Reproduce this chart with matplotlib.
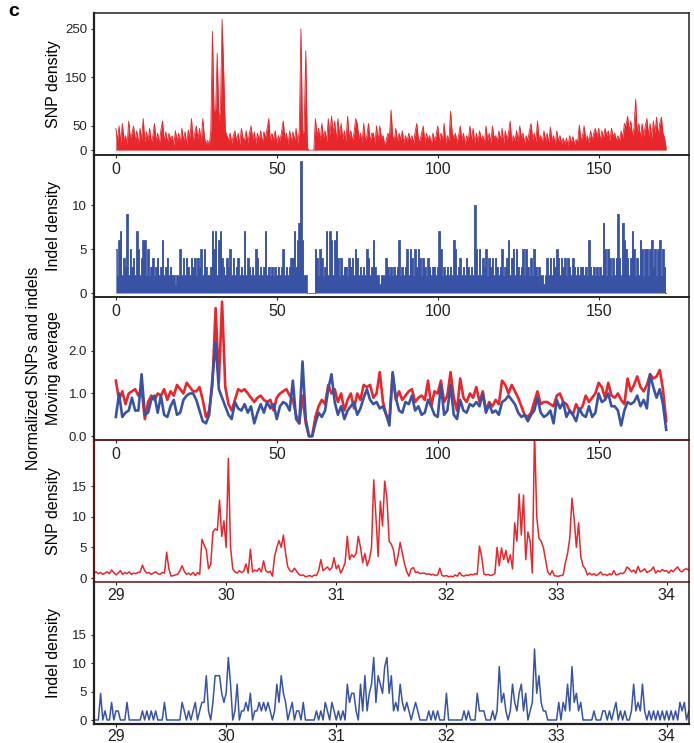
import numpy as np
import matplotlib
matplotlib.use('Agg')
import matplotlib.pyplot as plt

plt.rcParams['font.family'] = ['Liberation Sans', 'DejaVu Sans']

RED = '#e8262b'
BLUE = '#3953a4'
MAROON = '#5c1616'

# whole chromosome, 0.5 Mb bins starting at 0 Mb
genomeStart = 0.0
genomeStep = 0.5
snpDensity = [
    45, 20, 50, 15, 55, 22, 30, 12, 60, 25,
    35, 50, 18, 40, 14, 45, 22, 65, 16, 38,
    20, 45, 15, 30, 55, 18, 35, 12, 42, 60,
    18, 38, 16, 35, 22, 30, 10, 40, 18, 35,
    15, 45, 20, 38, 12, 42, 25, 65, 18, 35,
    50, 22, 45, 15, 65, 28, 12, 20, 10, 40,
    245, 80, 85, 200, 60, 85, 270, 160, 40, 30,
    20, 35, 15, 30, 40, 18, 35, 12, 45, 25,
    20, 40, 15, 35, 50, 22, 38, 14, 35, 20,
    40, 15, 38, 25, 45, 65, 18, 35, 22, 40,
    15, 30, 20, 38, 60, 25, 35, 12, 40, 18,
    38, 20, 45, 15, 40, 250, 35, 40, 205, 5,
    0, 0, 0, 0, 65, 30, 45, 20, 55, 25,
    40, 18, 65, 30, 70, 35, 60, 20, 65, 30,
    55, 22, 40, 18, 70, 25, 40, 20, 35, 65,
    55, 25, 35, 15, 55, 20, 30, 55, 18, 35,
    35, 15, 50, 20, 50, 25, 30, 12, 20, 35,
    28, 83, 30, 20, 45, 18, 35, 22, 40, 15,
    30, 18, 35, 20, 30, 14, 38, 55, 22, 20,
    35, 50, 15, 35, 22, 30, 12, 35, 20, 30,
    50, 18, 35, 22, 55, 15, 30, 20, 80, 35,
    25, 35, 15, 30, 50, 20, 35, 12, 30, 20,
    50, 20, 45, 15, 35, 18, 40, 22, 30, 14,
    50, 20, 35, 15, 50, 25, 30, 18, 40, 22,
    45, 15, 40, 22, 35, 60, 18, 30, 20, 40,
    18, 50, 25, 35, 15, 30, 20, 40, 55, 22,
    35, 18, 60, 22, 30, 15, 40, 20, 35, 15,
    48, 20, 30, 12, 40, 18, 30, 14, 25, 12,
    25, 10, 30, 15, 28, 12, 22, 18, 52, 20,
    30, 50, 20, 30, 15, 40, 22, 35, 45, 25,
    45, 20, 40, 25, 45, 30, 40, 20, 45, 28,
    35, 20, 30, 18, 40, 25, 55, 50, 70, 40,
    60, 30, 45, 105, 35, 55, 25, 55, 30, 50,
    65, 30, 55, 25, 60, 35, 68, 30, 55, 68,
    35, 25, 3]

indelDensity = [
    5, 2, 6, 7, 2, 4, 3, 9, 2, 5,
    3, 4, 2, 7, 5, 2, 4, 6, 6, 2,
    5, 2, 3, 4, 2, 3, 4, 2, 3, 6,
    2, 3, 4, 2, 3, 2, 2, 1, 2, 2,
    5, 2, 4, 2, 4, 3, 2, 4, 3, 4,
    2, 4, 3, 5, 2, 5, 3, 2, 2, 3,
    7, 5, 7, 2, 6, 7, 4, 3, 2, 4,
    3, 5, 2, 4, 2, 3, 4, 2, 3, 2,
    7, 2, 4, 3, 2, 3, 2, 5, 4, 2,
    3, 2, 3, 7, 2, 3, 2, 3, 2, 3,
    2, 3, 2, 3, 5, 2, 3, 2, 3, 4,
    4, 7, 3, 6, 8, 15, 6, 2, 2, 0,
    0, 0, 0, 0, 5, 4, 2, 5, 4, 2,
    3, 7, 2, 7, 6, 2, 6, 7, 4, 2,
    4, 2, 3, 3, 2, 4, 3, 4, 2, 5,
    4, 2, 3, 2, 3, 2, 5, 4, 2, 3,
    6, 3, 2, 2, 1, 2, 2, 2, 4, 3,
    2, 3, 2, 3, 2, 3, 6, 2, 3, 2,
    3, 5, 2, 5, 4, 2, 5, 3, 5, 4,
    2, 4, 3, 2, 4, 3, 2, 3, 3, 2,
    3, 7, 5, 2, 3, 2, 3, 2, 3, 2,
    6, 5, 2, 3, 4, 2, 3, 2, 4, 3,
    2, 3, 2, 10, 5, 2, 5, 2, 4, 3,
    5, 2, 4, 3, 4, 2, 4, 3, 2, 3,
    5, 2, 3, 4, 6, 2, 4, 5, 2, 5,
    3, 2, 3, 5, 2, 5, 3, 2, 4, 2,
    5, 3, 2, 3, 2, 2, 1, 2, 4, 2,
    4, 2, 4, 3, 5, 4, 2, 4, 3, 4,
    2, 4, 3, 2, 4, 3, 2, 3, 2, 3,
    3, 2, 3, 2, 6, 3, 2, 3, 2, 3,
    2, 3, 2, 8, 5, 2, 5, 4, 2, 4,
    2, 4, 9, 4, 2, 8, 6, 5, 4, 2,
    4, 7, 5, 2, 4, 2, 6, 5, 2, 5,
    5, 2, 5, 6, 3, 5, 2, 5, 6, 2,
    5, 3, 0]

# moving averages, 1 Mb steps
avgStep = 1.0
snpMovingAvg = [
    1.3, 0.85, 1.05, 0.75, 1.0, 1.05, 1.1, 0.95, 1.1, 0.4,
    0.8, 0.95, 0.85, 1.0, 0.95, 1.1, 0.85, 1.05, 0.95, 1.2,
    1.1, 1.0, 1.25, 1.15, 1.05, 1.05, 1.15, 0.85, 0.45, 0.6,
    1.2, 3.0, 1.25, 3.15, 1.15, 0.75, 0.6, 0.85, 1.1, 1.05,
    1.1, 1.0, 0.9, 0.8, 0.9, 0.95, 0.85, 0.8, 0.85, 0.6,
    0.9, 1.0, 1.05, 1.1, 0.95, 0.85, 0.5, 0.3, 0.95, 0.3,
    0.0, 0.0, 0.45, 0.7, 0.85, 0.75, 1.2, 1.0, 1.1, 0.8,
    1.0, 0.6, 0.85, 1.0, 0.65, 1.0, 0.85, 1.2, 1.15, 1.2,
    0.9, 1.0, 1.5, 0.8, 0.5, 0.4, 1.45, 0.85, 1.05, 0.85,
    0.95, 1.05, 1.1, 0.8, 0.9, 0.95, 0.85, 1.3, 0.7, 1.05,
    1.0, 1.3, 0.8, 0.95, 1.5, 0.9, 0.6, 1.35, 0.9, 0.8,
    1.0, 0.9, 1.15, 0.8, 1.05, 0.6, 0.8, 0.7, 0.85, 0.75,
    1.3, 1.2, 1.0, 1.2, 1.05, 0.9, 0.7, 0.5, 0.45, 0.55,
    0.8, 1.05, 0.75, 0.8, 0.8, 0.75, 0.7, 0.95, 1.0, 0.8,
    0.75, 0.6, 0.5, 0.75, 0.6, 0.7, 0.95, 0.8, 0.9, 1.0,
    1.25, 1.15, 0.9, 1.25, 0.95, 0.9, 1.0, 0.85, 0.75, 1.35,
    1.05, 1.2, 1.4, 1.15, 1.05, 1.2, 1.45, 1.35, 1.4, 1.55,
    1.1, 0.35]
indelMovingAvg = [
    0.45, 1.0, 0.45, 0.55, 0.6, 0.9, 0.6, 0.6, 1.45, 0.5,
    0.55, 0.85, 0.95, 0.55, 0.95, 0.5, 0.45, 0.7, 0.85, 0.5,
    0.55, 0.85, 0.95, 1.0, 1.0, 0.85, 0.6, 0.35, 0.3, 0.5,
    1.35, 2.2, 1.1, 0.9, 0.7, 0.5, 0.4, 0.8, 0.65, 0.6,
    0.75, 0.55, 0.7, 0.3, 0.55, 0.75, 0.55, 0.8, 0.65, 0.75,
    0.4, 0.7, 0.8, 0.75, 0.6, 1.3, 0.4, 0.3, 1.75, 0.4,
    0.0, 0.0, 0.3, 0.55, 0.45, 0.6, 1.1, 1.45, 0.8, 0.5,
    0.7, 0.4, 0.6, 0.7, 0.8, 0.5, 0.65, 0.9, 1.1, 0.85,
    0.75, 0.8, 0.65, 0.7, 0.5, 0.25, 1.5, 0.9, 0.6, 0.55,
    0.8, 0.75, 0.95, 0.6, 0.7, 0.5, 0.55, 0.85, 0.7, 0.5,
    0.45, 1.2, 0.5, 0.6, 1.2, 0.5, 0.4, 0.85, 0.6, 0.55,
    0.75, 0.7, 0.8, 0.7, 1.0, 0.55, 0.75, 0.55, 0.6, 0.5,
    0.8, 0.85, 0.95, 0.85, 0.75, 0.55, 0.45, 0.5, 0.35, 0.5,
    0.6, 0.9, 0.55, 0.45, 0.5, 0.6, 0.3, 0.85, 0.65, 0.8,
    0.45, 0.6, 0.5, 0.35, 0.65, 0.5, 0.45, 0.7, 0.45, 0.55,
    1.0, 0.8, 0.85, 1.0, 0.7, 0.7, 0.6, 0.25, 0.6, 0.8,
    0.75, 0.8, 0.95, 0.7, 0.85, 0.65, 1.45, 1.15, 0.9, 1.1,
    0.75, 0.15]

# close-up region 28.8 - 34.2 Mb, 20 kb bins
zoomStart = 28.8
zoomStep = 0.02
snpZoom = [
    0.8, 1.0, 0.7, 0.9, 0.6, 0.8, 1.0, 0.7, 1.3, 0.9,
    0.5, 0.8, 1.2, 0.6, 0.9, 0.7, 1.0, 0.6, 0.8, 0.7,
    0.9, 1.0, 2.1, 1.2, 0.8, 0.9, 0.6, 0.8, 1.0, 0.7,
    0.6, 0.9, 0.8, 4.2, 1.5, 0.3, 0.4, 0.5, 0.6, 1.2,
    2.0, 1.1, 0.6, 0.8, 0.5, 0.9, 0.4, 0.9, 0.6, 6.3,
    5.4, 4.6, 1.5, 2.2, 7.5, 8.0, 7.8, 12.7, 6.8, 9.3,
    5.0, 19.5, 5.0, 1.5, 1.0, 0.8, 1.2, 0.9, 1.1, 2.3,
    0.8, 4.7, 1.0, 1.3, 1.1, 1.6, 1.0, 2.8, 1.2, 0.9,
    1.1, 0.3, 3.5, 5.0, 6.1, 5.0, 7.0, 4.0, 1.8, 1.2,
    1.0, 1.6, 1.1, 0.6, 0.4, 0.5, 0.2, 0.3, 0.4, 0.2,
    0.5, 0.4, 1.2, 3.0, 1.2, 1.5, 1.8, 1.3, 1.7, 3.3,
    1.5, 2.1, 0.8, 1.5, 2.5, 6.8, 3.0, 3.8, 3.4, 4.0,
    6.8, 5.0, 2.5, 4.0, 2.0, 3.0, 5.0, 16.0, 10.0, 3.5,
    12.5, 8.5, 15.8, 13.0, 6.0, 5.5, 4.5, 2.0, 3.5, 5.8,
    4.0, 2.3, 1.0, 0.3, 1.5, 1.7, 0.9, 1.0, 0.7, 0.8,
    0.8, 0.6, 0.7, 0.5, 0.6, 0.4, 0.5, 1.6, 0.4, 0.3,
    0.4, 0.2, 0.3, 0.2, 0.5, 0.3, 0.9, 0.4, 0.3, 0.5,
    0.4, 0.6, 0.5, 0.7, 0.6, 5.2, 3.5, 0.7, 0.5, 0.6,
    0.4, 0.5, 0.7, 5.0, 2.0, 4.9, 3.0, 4.5, 2.5, 3.8,
    1.5, 9.0, 6.0, 13.7, 7.0, 13.5, 3.0, 7.5, 6.0, 0.8,
    24.0, 10.0, 6.5, 6.0, 5.0, 3.0, 1.0, 0.5, 1.2, 0.4,
    0.3, 0.3, 0.4, 0.5, 2.5, 4.0, 6.5, 13.0, 9.5, 5.0,
    9.0, 3.5, 2.0, 1.5, 0.5, 0.8, 0.5, 0.7, 0.4, 0.6,
    1.0, 0.5, 0.6, 0.4, 0.7, 0.5, 1.2, 0.5, 0.6, 0.8,
    0.7, 1.0, 1.8, 1.5, 1.0, 1.3, 0.8, 1.9, 1.0, 1.2,
    1.5, 0.9, 1.1, 1.3, 1.8, 0.8, 1.2, 1.0, 1.4, 1.1,
    1.2, 0.8, 1.3, 1.0, 1.5, 1.8, 1.2, 1.0, 1.4, 1.5,
    1.3]
indelZoom = [
    0, 0, 0, 4.7, 0, 1.6, 0, 0, 3.1, 0,
    1.6, 1.6, 0, 0, 0, 3.1, 0, 0, 0, 0,
    0, 0, 1.6, 0, 1.6, 0, 1.6, 0, 1.6, 0,
    0, 0, 3.1, 0, 0, 0, 0, 0, 0, 0,
    3.1, 1.6, 0, 1.6, 0, 1.6, 3.1, 0, 1.6, 3.1,
    3.1, 7.8, 1.6, 0, 3.1, 7.8, 7.8, 7.8, 4.7, 3.1,
    4.7, 11.0, 6.3, 0, 1.6, 6.3, 0, 1.6, 1.6, 3.1,
    1.6, 4.7, 0, 1.6, 1.6, 3.1, 1.6, 3.1, 1.6, 3.1,
    1.6, 0, 1.6, 6.3, 3.1, 7.8, 4.7, 3.1, 0, 1.6,
    3.1, 0, 1.6, 1.6, 0, 3.1, 0, 0, 0, 0,
    0, 1.6, 0, 1.6, 0, 3.1, 1.6, 0, 3.1, 1.6,
    0, 1.6, 0, 1.6, 0, 6.3, 3.1, 4.7, 4.7, 1.6,
    0, 6.3, 1.6, 7.8, 1.6, 4.7, 6.3, 11.0, 3.1, 7.8,
    6.3, 4.7, 9.4, 11.0, 4.7, 7.8, 1.6, 3.1, 1.6, 6.3,
    3.1, 1.6, 3.1, 1.6, 0, 1.6, 3.1, 1.6, 0, 0,
    0, 0, 1.6, 0, 1.6, 0, 1.6, 0, 0, 0,
    4.7, 0, 0, 0, 0, 0, 0, 0, 1.6, 0,
    1.6, 0, 0, 0, 4.7, 1.6, 1.6, 1.6, 0, 0,
    0, 1.6, 0, 1.6, 9.4, 3.1, 4.7, 1.6, 0, 1.6,
    6.3, 3.1, 1.6, 4.7, 6.3, 1.6, 4.7, 0, 1.6, 3.1,
    12.5, 4.7, 7.8, 3.1, 1.6, 1.6, 0, 0, 0, 0,
    0, 3.1, 0, 3.1, 1.6, 6.3, 1.6, 9.4, 3.1, 4.7,
    1.6, 3.1, 0, 0, 0, 0, 0, 1.6, 0, 0,
    0, 1.6, 1.6, 0, 1.6, 0, 1.6, 3.1, 0, 1.6,
    0, 1.6, 0, 0, 1.6, 6.3, 1.6, 3.1, 1.6, 6.3,
    1.6, 0, 1.6, 0, 1.6, 0, 1.6, 0, 1.6, 0,
    1.6, 0, 1.6, 0, 1.6, 0, 3.1, 1.6, 3.1, 0,
    1.6]

genomeTicks = [0, 50, 100, 150]
zoomTicks = [29, 30, 31, 32, 33, 34]


def binPositions(start, step, values):
    return start + step * np.arange(len(values))


def styleAxis(ax, xlim, ylim, xticks, yticks, ylabels=None, spineColor='#222222', xpad=2.5):
    ax.set_facecolor('none')
    ax.set_xlim(xlim)
    ax.set_ylim(ylim)
    ax.set_xticks(xticks)
    ax.set_yticks(yticks)
    if ylabels is not None:
        ax.set_yticklabels(ylabels)
    ax.tick_params(axis='x', direction='out', length=2.5, width=0.8,
                   pad=xpad, labelsize=11.5, colors='#222222')
    ax.tick_params(axis='y', direction='out', length=2.5, width=0.8,
                   pad=2.5, labelsize=9.5, colors='#222222')
    for side in ax.spines:
        ax.spines[side].set_color(spineColor)
        ax.spines[side].set_linewidth(1.1)
    ax.spines['left'].set_linewidth(1.6)


fig = plt.figure(figsize=(6.94, 7.43), dpi=100)
left = 0.1354
width = 0.857
ax1 = fig.add_axes([left, 0.7914, width, 0.1911])
ax2 = fig.add_axes([left, 0.6003, width, 0.1911])
ax3 = fig.add_axes([left, 0.4078, width, 0.1925])
ax4 = fig.add_axes([left, 0.2167, width, 0.1911])
ax5 = fig.add_axes([left, 0.0256, width, 0.1911])

genomeXlim = (-6.8, 178.0)
zoomXlim = (28.8, 34.2)

# SNP density, whole chromosome
x = binPositions(genomeStart, genomeStep, snpDensity)
ax1.fill_between(x, 0, snpDensity, color=RED, lw=0)
ax1.plot(x, snpDensity, color=RED, lw=0.6)
styleAxis(ax1, genomeXlim, (-10, 283), genomeTicks, [0, 50, 150, 250])
ax1.set_ylabel('SNP density', fontsize=11.5)
ax1.yaxis.set_label_coords(-0.055, 0.5)

# indel density, whole chromosome
x = binPositions(genomeStart, genomeStep, indelDensity)
ax2.fill_between(x, 0, indelDensity, step='mid', color=BLUE, lw=0)
ax2.step(x, indelDensity, where='mid', color=BLUE, lw=0.6)
styleAxis(ax2, genomeXlim, (-0.45, 15.7), genomeTicks, [0, 5, 10])
ax2.set_ylabel('Indel density', fontsize=11.5)
ax2.yaxis.set_label_coords(-0.055, 0.5)

# normalized moving averages
x = binPositions(genomeStart, avgStep, snpMovingAvg)
ax3.plot(x, snpMovingAvg, color=RED, lw=1.9, solid_joinstyle='round')
ax3.plot(x, indelMovingAvg, color=BLUE, lw=1.9, solid_joinstyle='round')
styleAxis(ax3, genomeXlim, (-0.09, 3.26), genomeTicks, [0.0, 1.0, 2.0],
          ['0.0', '1.0', '2.0'])
ax3.spines['bottom'].set_color(MAROON)
ax3.set_ylabel('Normalized SNPs and indels\nMoving average', fontsize=11.5,
               linespacing=1.45)
ax3.yaxis.set_label_coords(-0.055, 0.5)

# close-up SNP density
x = binPositions(zoomStart, zoomStep, snpZoom)
ax4.plot(x, snpZoom, color=RED, lw=1.1)
styleAxis(ax4, zoomXlim, (-0.65, 22.5), zoomTicks, [0, 5, 10, 15],
          spineColor=MAROON, xpad=1.5)
ax4.set_ylabel('SNP density', fontsize=11.5)
ax4.yaxis.set_label_coords(-0.055, 0.5)

# close-up indel density
x = binPositions(zoomStart, zoomStep, indelZoom)
ax5.plot(x, indelZoom, color=BLUE, lw=1.1)
styleAxis(ax5, zoomXlim, (-0.7, 24.3), zoomTicks, [0, 5, 10, 15], xpad=0.8)
ax5.spines['top'].set_visible(False)
ax5.spines['bottom'].set_linewidth(1.6)
ax5.set_ylabel('Indel density', fontsize=11.5)
ax5.yaxis.set_label_coords(-0.055, 0.5)

fig.text(0.012, 0.984, 'c', fontsize=14, fontweight='bold', va='center', ha='left')

fig.savefig('out.png', dpi=100)
